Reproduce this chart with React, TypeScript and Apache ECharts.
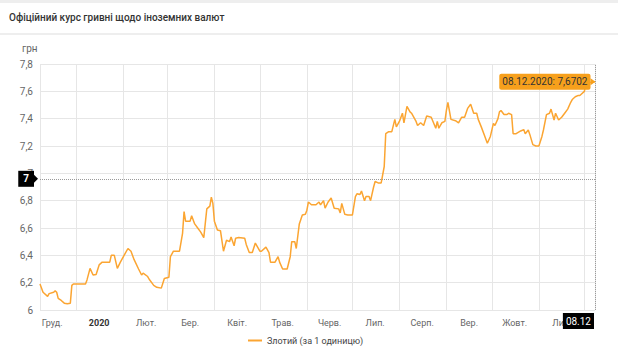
import React, { useEffect, useRef } from "react";
import * as echarts from "echarts";

const titleText = "Офіційний курс гривні щодо іноземних валют";
const unitText = "грн";
const seriesName = "Злотий (за 1 одиницю)";
const monthLabels = ["2020", "Лют.", "Бер.", "Квіт.", "Трав.", "Черв.", "Лип.", "Серп.", "Вер.", "Жовт.", "Лис.", "Груд."];

const xStart = "2019-12-08";
const xEnd = "2020-12-08";
const yMin = 6;
const yMax = 7.8;
const yStep = 0.2;

const hoverDate = "2020-12-08";
const hoverValue = 7.6702;
const hoverTip = "08.12.2020: 7,6702";
const hoverAxisLabel = "08.12";
const crossValue = 6.96;
const crossLabel = "7";

const dates = [
  "2019-12-08", "2019-12-10", "2019-12-13", "2019-12-14", "2019-12-17", "2019-12-18", "2019-12-19", "2019-12-20",
  "2019-12-22", "2019-12-24", "2019-12-26", "2019-12-28", "2019-12-29", "2019-12-30", "2020-01-07", "2020-01-08",
  "2020-01-10", "2020-01-12", "2020-01-14", "2020-01-16", "2020-01-18", "2020-01-23", "2020-01-24", "2020-01-26",
  "2020-01-28", "2020-01-30", "2020-02-01", "2020-02-02", "2020-02-04", "2020-02-06", "2020-02-08", "2020-02-11",
  "2020-02-13", "2020-02-14", "2020-02-17", "2020-02-18", "2020-02-21", "2020-02-23", "2020-02-26", "2020-02-28",
  "2020-03-02", "2020-03-03", "2020-03-05", "2020-03-09", "2020-03-11", "2020-03-12", "2020-03-13", "2020-03-16",
  "2020-03-17", "2020-03-19", "2020-03-21", "2020-03-23", "2020-03-25", "2020-03-27", "2020-03-29", "2020-03-30",
  "2020-03-31", "2020-04-01", "2020-04-03", "2020-04-05", "2020-04-07", "2020-04-09", "2020-04-11", "2020-04-12",
  "2020-04-14", "2020-04-15", "2020-04-17", "2020-04-21", "2020-04-22", "2020-04-24", "2020-04-26", "2020-04-28",
  "2020-05-01", "2020-05-02", "2020-05-05", "2020-05-07", "2020-05-08", "2020-05-11", "2020-05-13", "2020-05-14",
  "2020-05-16", "2020-05-19", "2020-05-21", "2020-05-22", "2020-05-24", "2020-05-25", "2020-05-27", "2020-05-29",
  "2020-05-31", "2020-06-01", "2020-06-02", "2020-06-04", "2020-06-07", "2020-06-09", "2020-06-10", "2020-06-12",
  "2020-06-13", "2020-06-15", "2020-06-17", "2020-06-19", "2020-06-22", "2020-06-23", "2020-06-24", "2020-06-26",
  "2020-06-28", "2020-07-01", "2020-07-03", "2020-07-04", "2020-07-06", "2020-07-07", "2020-07-09", "2020-07-10",
  "2020-07-12", "2020-07-13", "2020-07-15", "2020-07-16", "2020-07-18", "2020-07-20", "2020-07-22", "2020-07-23",
  "2020-07-25", "2020-07-27", "2020-07-29", "2020-07-30", "2020-08-01", "2020-08-03", "2020-08-04", "2020-08-06",
  "2020-08-08", "2020-08-09", "2020-08-12", "2020-08-13", "2020-08-15", "2020-08-17", "2020-08-19", "2020-08-22",
  "2020-08-25", "2020-08-26", "2020-08-27", "2020-08-29", "2020-08-31", "2020-09-01", "2020-09-02", "2020-09-04",
  "2020-09-07", "2020-09-09", "2020-09-11", "2020-09-13", "2020-09-15", "2020-09-17", "2020-09-19", "2020-09-21",
  "2020-09-22", "2020-09-24", "2020-09-26", "2020-09-28", "2020-09-30", "2020-10-02", "2020-10-03", "2020-10-05",
  "2020-10-06", "2020-10-07", "2020-10-09", "2020-10-11", "2020-10-12", "2020-10-14", "2020-10-15", "2020-10-17",
  "2020-10-20", "2020-10-22", "2020-10-23", "2020-10-25", "2020-10-26", "2020-10-28", "2020-10-30", "2020-11-01",
  "2020-11-03", "2020-11-04", "2020-11-06", "2020-11-08", "2020-11-09", "2020-11-11", "2020-11-12", "2020-11-14",
  "2020-11-16", "2020-11-18", "2020-11-20", "2020-11-22", "2020-11-23", "2020-11-25", "2020-11-27", "2020-11-28",
  "2020-12-01", "2020-12-02", "2020-12-08"
];

const rates = [
  6.19, 6.13, 6.10, 6.12, 6.13, 6.14, 6.13, 6.085,
  6.07, 6.05, 6.045, 6.05, 6.18, 6.19, 6.19, 6.22,
  6.305, 6.256, 6.26, 6.33, 6.35, 6.35, 6.40, 6.40,
  6.305, 6.35, 6.39, 6.41, 6.45, 6.43, 6.37, 6.30,
  6.256, 6.27, 6.245, 6.225, 6.18, 6.166, 6.16, 6.23,
  6.24, 6.39, 6.43, 6.43, 6.56, 6.72, 6.65, 6.65,
  6.69, 6.63, 6.60, 6.57, 6.53, 6.74, 6.76, 6.825,
  6.78, 6.65, 6.585, 6.58, 6.43, 6.51, 6.50, 6.535,
  6.47, 6.525, 6.53, 6.525, 6.48, 6.42, 6.42, 6.49,
  6.43, 6.43, 6.46, 6.42, 6.35, 6.35, 6.39, 6.35,
  6.30, 6.30, 6.39, 6.50, 6.50, 6.45, 6.63, 6.695,
  6.70, 6.73, 6.79, 6.77, 6.77, 6.79, 6.77, 6.80,
  6.745, 6.79, 6.82, 6.745, 6.74, 6.71, 6.78, 6.70,
  6.695, 6.695, 6.83, 6.85, 6.845, 6.87, 6.80, 6.83,
  6.83, 6.80, 6.90, 6.94, 6.93, 6.93, 7.05, 7.29,
  7.305, 7.305, 7.395, 7.34, 7.38, 7.44, 7.37, 7.49,
  7.45, 7.44, 7.38, 7.35, 7.37, 7.35, 7.42, 7.41,
  7.33, 7.38, 7.33, 7.37, 7.38, 7.46, 7.52, 7.395,
  7.385, 7.37, 7.41, 7.41, 7.475, 7.505, 7.44, 7.44,
  7.395, 7.34, 7.28, 7.22, 7.27, 7.365, 7.35, 7.40,
  7.45, 7.46, 7.43, 7.43, 7.44, 7.43, 7.29, 7.29,
  7.31, 7.32, 7.29, 7.317, 7.285, 7.21, 7.20, 7.20,
  7.27, 7.317, 7.43, 7.44, 7.47, 7.39, 7.44, 7.39,
  7.41, 7.44, 7.47, 7.52, 7.54, 7.56, 7.57, 7.57,
  7.60, 7.66, 7.6702
];

const DAY = 86400000;
const ts = (s: string) => {
  const [y, m, d] = s.split("-").map(Number);
  return new Date(y, m - 1, d).getTime();
};
const fmtY = (v: number) => String(Math.round(v * 10) / 10).replace(".", ",");

const LINE_COLOR = "#fba532";
const TIP_COLOR = "#f7a01c";
const GRID_COLOR = "#e6e6e6";

export default function App() {
  const ref = useRef<HTMLDivElement>(null);
  useEffect(() => {
    const chart = echarts.init(ref.current!, null, { renderer: "svg" });
    const xMin = ts(xStart);
    const xMax = ts(xEnd);
    const data = dates.map((d, i) => [ts(d), rates[i]]);
    chart.setOption({
      animation: false,
      backgroundColor: "#ffffff",
      textStyle: { fontFamily: "Roboto" },
      title: {
        text: titleText,
        left: 9,
        top: 12,
        padding: 0,
        textStyle: { fontSize: 10, fontWeight: 500, color: "#333333", fontFamily: "Roboto" }
      },
      graphic: [
        { type: "rect", left: 0, top: 0, shape: { width: 618, height: 3 }, style: { fill: "#eeeeee" }, silent: true },
        { type: "rect", left: 0, top: 33, shape: { width: 618, height: 2 }, style: { fill: "#eeeeee" }, silent: true },
        {
          type: "text",
          left: 22,
          top: 43,
          style: { text: unitText, fontSize: 10, fill: "#666666", fontFamily: "Roboto" },
          silent: true
        }
      ],
      legend: {
        left: 248,
        top: 336,
        padding: 0,
        icon: "rect",
        itemWidth: 14,
        itemHeight: 2,
        itemGap: 4,
        textStyle: { fontSize: 9, color: "#444444", fontFamily: "Roboto" },
        data: [seriesName]
      },
      grid: { left: 40, right: 23, top: 64, bottom: 40, containLabel: false },
      xAxis: [
        {
          type: "time",
          min: xMin,
          max: xMax,
          minInterval: 28 * DAY,
          maxInterval: 31 * DAY,
          axisLine: { show: false },
          axisTick: { show: false },
          axisLabel: { show: false },
          splitLine: { show: true, lineStyle: { color: GRID_COLOR, width: 1 } }
        },
        {
          type: "time",
          min: xMin - 15 * DAY,
          max: xMax - 15 * DAY,
          minInterval: 28 * DAY,
          maxInterval: 31 * DAY,
          position: "bottom",
          axisLine: { show: false },
          axisTick: { show: false },
          splitLine: { show: false },
          axisLabel: {
            show: true,
            color: "#666666",
            fontSize: 9,
            margin: 8,
            hideOverlap: false,
            formatter: (v: number) => {
              const m = new Date(v).getMonth();
              return m === 0 ? "{b|" + monthLabels[0] + "}" : monthLabels[m];
            },
            rich: { b: { fontWeight: "bold", color: "#333333", fontSize: 9, fontFamily: "Roboto" } }
          }
        }
      ],
      yAxis: {
        type: "value",
        min: yMin,
        max: yMax,
        interval: yStep,
        axisLine: { show: false },
        axisTick: { show: false },
        axisLabel: { color: "#666666", fontSize: 10, margin: 7, formatter: fmtY },
        splitLine: { lineStyle: { color: GRID_COLOR, width: 1 } }
      },
      series: [
        {
          name: seriesName,
          type: "line",
          xAxisIndex: 0,
          data,
          showSymbol: false,
          color: LINE_COLOR,
          lineStyle: { color: LINE_COLOR, width: 1.5 },
          markLine: {
            silent: true,
            symbol: ["none", "none"],
            lineStyle: { type: "dotted", color: "#9a9a9a", width: 1 },
            data: [
              {
                yAxis: crossValue,
                label: {
                  show: true,
                  position: "start",
                  formatter: crossLabel,
                  backgroundColor: "#000000",
                  color: "#ffffff",
                  fontSize: 10,
                  fontWeight: "bold",
                  padding: [3, 5],
                  distance: 6
                }
              },
              {
                xAxis: ts(hoverDate),
                label: {
                  show: true,
                  position: "start",
                  formatter: hoverAxisLabel,
                  backgroundColor: "#000000",
                  color: "#ffffff",
                  fontSize: 10,
                  padding: [3, 3],
                  distance: 3,
                  align: "right",
                  offset: [-1, 0]
                }
              }
            ]
          },
          markPoint: {
            silent: true,
            data: [
              {
                coord: [ts(hoverDate), hoverValue],
                symbol: "circle",
                symbolSize: 1,
                itemStyle: { color: "rgba(0,0,0,0)" },
                label: {
                  show: true,
                  position: "left",
                  distance: 4,
                  formatter: hoverTip,
                  backgroundColor: TIP_COLOR,
                  color: "#333333",
                  fontSize: 10,
                  padding: [3, 3],
                  borderRadius: 2
                }
              },
              {
                coord: [ts(hoverDate), hoverValue],
                symbol: "triangle",
                symbolSize: [7, 5],
                symbolRotate: -90,
                symbolOffset: [-2, 0],
                itemStyle: { color: TIP_COLOR },
                label: { show: false }
              },
              {
                coord: [xMin, crossValue],
                symbol: "triangle",
                symbolSize: [8, 4],
                symbolRotate: -90,
                symbolOffset: [-4, 0],
                itemStyle: { color: "#000000" },
                label: { show: false }
              }
            ]
          }
        }
      ]
    });
    return () => chart.dispose();
  }, []);
  return <div ref={ref} style={{ position: "absolute", left: 0, top: 0, width: 618, height: 350 }} />;
}
